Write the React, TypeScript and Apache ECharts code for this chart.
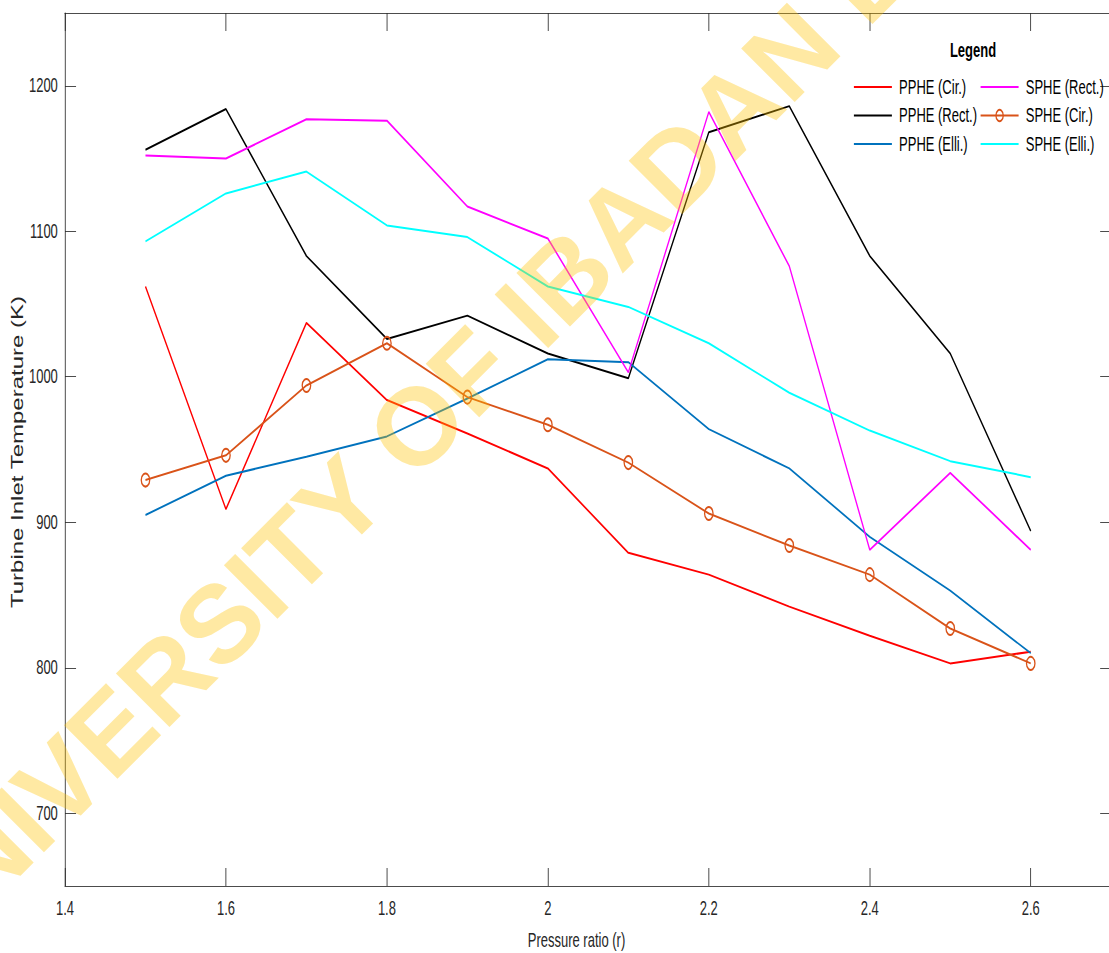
import { useEffect, useRef } from "react";
import * as echarts from "echarts";

// Horizontal squeeze of the whole figure (the reference is a horizontally compressed MATLAB plot)
const S = 0.65;
const VIEW_W = 1109;
const VIEW_H = 953;
const INNER_W = 1130 / S;

const pressureRatio = [1.5, 1.6, 1.7, 1.8, 1.9, 2.0, 2.1, 2.2, 2.3, 2.4, 2.5, 2.6];
const ppheCir = [1062, 909, 1037, 984, 961, 937, 879, 864, 842, 822, 803, 811];
const ppheRect = [1156, 1184, 1083, 1026, 1042, 1016, 999, 1168, 1186, 1083, 1016, 894];
const ppheElli = [905, 932, 945, 959, 985, 1012, 1010, 964, 937, 890, 853, 810];
const spheRect = [1152, 1150, 1177, 1176, 1117, 1095, 1003, 1182, 1076, 881, 934, 881];
const spheCir = [929, 946, 994, 1023, 986, 967, 941, 906, 884, 864, 827, 803];
const spheElli = [1093, 1126, 1141, 1104, 1096, 1062, 1048, 1023, 989, 963, 942, 931];

const xTicks = [1.4, 1.6, 1.8, 2.0, 2.2, 2.4, 2.6];
const yTicks = [700, 800, 900, 1000, 1100, 1200];

const FONT = "'Liberation Sans', Arial, Helvetica, sans-serif";
const AX = "#262626";

const pair = (ys: number[]) => pressureRatio.map((x, i) => [x, ys[i]]);

function lineSeries(name: string, ys: number[], color: string, marker = false) {
  return {
    name,
    type: "line",
    data: pair(ys),
    symbol: marker ? "circle" : "none",
    symbolSize: 13,
    showSymbol: marker,
    lineStyle: { color, width: 2 },
    itemStyle: marker
      ? { color: "rgba(255,255,255,0)", borderColor: color, borderWidth: 2 }
      : { color },
    emphasis: { disabled: true },
    z: 2,
  };
}

const xFmt = (v: number) => String(Number(v.toFixed(1)));
const yFmt = (v: number) => String(Math.round(v));

function makeX(position: "bottom" | "top") {
  return {
    type: "value",
    min: 1.4,
    max: 2.7,
    position,
    axisLine: { show: true, onZero: false, lineStyle: { color: AX, width: 1 } },
    axisTick: { show: true, inside: true, length: 18, customValues: xTicks, lineStyle: { color: AX, width: 1 } },
    axisLabel: {
      show: position === "bottom",
      customValues: xTicks,
      formatter: xFmt,
      fontSize: 20,
      fontFamily: FONT,
      color: AX,
      margin: 12,
    },
    splitLine: { show: false },
  };
}

function makeY(position: "left" | "right") {
  return {
    type: "value",
    min: 650,
    max: 1250,
    position,
    axisLine: { show: true, onZero: false, lineStyle: { color: AX, width: 1 } },
    axisTick: { show: true, inside: true, length: 17, customValues: yTicks, lineStyle: { color: AX, width: 1 } },
    axisLabel: {
      show: position === "left",
      customValues: yTicks,
      formatter: yFmt,
      fontSize: 20,
      fontFamily: FONT,
      color: AX,
      margin: 11,
    },
    splitLine: { show: false },
  };
}

const legendCommon = {
  orient: "vertical",
  top: 72,
  itemWidth: 38 / S,
  itemHeight: 14,
  itemGap: 8.5,
  selectedMode: false,
  textStyle: { fontSize: 20, fontFamily: FONT, color: "#000", lineHeight: 20, padding: [0, 0, 0, 6] },
};

const plainItem = (name: string) => ({ name, itemStyle: { opacity: 0 } });

export default function App() {
  const ref = useRef<HTMLDivElement>(null);
  useEffect(() => {
    if (!ref.current) return;
    const chart = echarts.init(ref.current, undefined, { renderer: "svg" });
    chart.setOption({
      animation: false,
      backgroundColor: "#fff",
      grid: { left: 65 / S, right: (1130 - 1111.5) / S, top: 13, bottom: 67, containLabel: false, outerBoundsMode: "none" },
      xAxis: [makeX("bottom"), makeX("top")],
      yAxis: [makeY("left"), makeY("right")],
      legend: [
        {
          ...legendCommon,
          left: 850 / S,
          data: [plainItem("PPHE (Cir.)"), plainItem("PPHE (Rect.)"), plainItem("PPHE (Elli.)")],
        },
        {
          ...legendCommon,
          left: 976.7 / S,
          data: [plainItem("SPHE (Rect.)"), { name: "SPHE (Cir.)" }, plainItem("SPHE (Elli.)")],
        },
      ],
      series: [
        lineSeries("PPHE (Cir.)", ppheCir, "#FF0000"),
        lineSeries("PPHE (Rect.)", ppheRect, "#000000"),
        lineSeries("PPHE (Elli.)", ppheElli, "#0072BD"),
        lineSeries("SPHE (Rect.)", spheRect, "#FF00FF"),
        lineSeries("SPHE (Cir.)", spheCir, "#D95319", true),
        lineSeries("SPHE (Elli.)", spheElli, "#00FFFF"),
      ],
      graphic: [
        {
          type: "text",
          x: 576.5 / S,
          y: 940,
          style: { text: "Pressure ratio (r)", fontSize: 20, fontFamily: FONT, fill: AX, align: "center", verticalAlign: "middle" },
        },
        {
          type: "text",
          x: 18 / S,
          y: 452,
          rotation: Math.PI / 2,
          style: { text: "Turbine Inlet Temperature (K)", fontSize: 24, fontFamily: FONT, fill: AX, align: "center", verticalAlign: "middle" },
        },
        {
          type: "text",
          x: 973 / S,
          y: 50,
          style: { text: "Legend", fontSize: 20, fontWeight: "bold", fontFamily: FONT, fill: "#000", align: "center", verticalAlign: "middle" },
        },
        {
          type: "group",
          x: 0,
          y: 0,
          scaleX: 1 / S,
          z: 100,
          children: [
            {
              type: "text",
              x: 541,
              y: 301,
              rotation: Math.PI / 4,
              z: 100,
              silent: true,
              style: {
                text: "UNIVERSITY OF IBADAN LIBRARY",
                fontSize: 110,
                fontWeight: "bold",
                fontFamily: FONT,
                fill: "rgba(255,195,0,0.36)",
                align: "center",
                verticalAlign: "middle",
              },
            },
          ],
        },
      ],
    });
    return () => chart.dispose();
  }, []);

  return (
    <div style={{ position: "fixed", left: 0, top: 0, width: VIEW_W, height: VIEW_H, overflow: "hidden", background: "#fff" }}>
      <div
        ref={ref}
        style={{ width: INNER_W, height: VIEW_H, transform: `scaleX(${S})`, transformOrigin: "0 0" }}
      />
    </div>
  );
}
